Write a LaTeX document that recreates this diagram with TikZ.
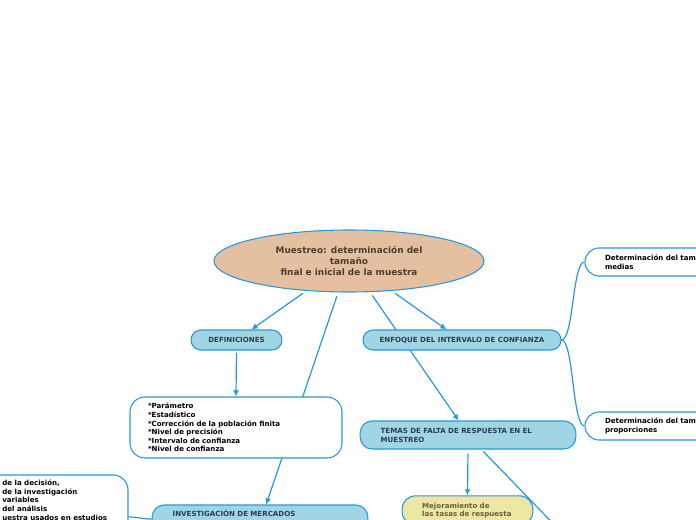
\documentclass[tikz,border=0pt]{standalone}
\usepackage{fontspec}
\setmainfont{DejaVu Sans}
\usetikzlibrary{shapes.geometric,arrows.meta,backgrounds}

\definecolor{linkblue}{RGB}{38,152,224}
\definecolor{topicfill}{RGB}{160,214,228}
\definecolor{rootfill}{RGB}{228,191,160}
\definecolor{notefill}{RGB}{237,231,164}
\definecolor{topictext}{RGB}{45,62,80}
\definecolor{roottext}{RGB}{75,62,45}
\definecolor{notetext}{RGB}{105,95,60}

\tikzset{
  root/.style={ellipse, draw=linkblue, line width=0.8pt, fill=rootfill, text=roottext,
    minimum width=202.5pt, minimum height=46.5pt, inner sep=0pt, align=center,
    font=\fontsize{6.7}{8.25}\selectfont\bfseries},
  topic/.style={rectangle, rounded corners=7.5pt, draw=linkblue, line width=0.8pt,
    fill=topicfill, text=topictext, minimum height=15pt, inner sep=0pt,
    font=\fontsize{5.3}{6.75}\selectfont\bfseries},
  leaf/.style={rectangle, rounded corners=11pt, draw=linkblue, line width=0.8pt,
    fill=white, text=black, align=left, inner ysep=0pt,
    font=\fontsize{5.3}{6.4}\selectfont\bfseries},
  conn/.style={draw=linkblue, line width=0.9pt, -{Latex[length=4.5pt,width=4.5pt]}},
  branch/.style={draw=linkblue, line width=0.9pt}
}

\begin{document}
\begin{tikzpicture}[x=0.75pt,y=0.75pt,yscale=-1,xscale=1]
\useasboundingbox (0,0) rectangle (696,520);

%Ellipse [root]
\node [root] (main) at (349,261) {Muestreo: determinación del\\tamaño\\final e inicial de la muestra};

%Rounded Rect [topics]
\node [topic, minimum width=68.25pt] (defs) at (236.5,340) {DEFINICIONES};
\node [topic, minimum width=148.5pt] (enf) at (462,340) {ENFOQUE DEL INTERVALO DE CONFIANZA};
\node [topic, rounded corners=9pt, minimum height=21pt, text width=131pt, inner xsep=15.4pt, align=left] (tem) at (468,435) {TEMAS DE FALTA DE RESPUESTA EN EL\\MUESTREO};
\node [topic, rounded corners=9pt, minimum height=21pt, text width=131pt, inner xsep=15.4pt, align=left, text depth=8.4pt] (inv) at (260,519) {INVESTIGACIÓN DE MERCADOS};

%Rounded Rect [leaves]
\node [leaf, rounded corners=11.25pt, minimum height=45.75pt, text width=132pt, inner xsep=13.5pt] (lst) at (236,427.5) {*Parámetro\\{}*Estadístico\\{}*Corrección de la población finita\\{}*Nivel de precisión\\{}*Intervalo de confianza\\{}*Nivel de confianza};
\node [leaf, rounded corners=10.5pt, minimum height=21pt, text width=90pt, inner xsep=15pt] (med) at (665,262) {Determinación del tama\\medias};
\node [leaf, rounded corners=10.5pt, minimum height=21pt, text width=90pt, inner xsep=15pt] (pro) at (665,426) {Determinación del tama\\proporciones};
\node [leaf, fill=notefill, text=notetext, rounded corners=10pt, minimum height=22pt, text width=68pt, inner xsep=15pt] (mej) at (467.5,510.5) {Mejoramiento de\\las tasas de respuesta};
\node [leaf, rounded corners=11.25pt, minimum width=193.5pt, minimum height=63pt] (lft) at (-1,517) {};
% Text Node
\node [anchor=north west, align=left, inner sep=0pt, font=\fontsize{5.3}{6.4}\selectfont\bfseries] (lfttxt) at (2,480) {de la decisión,\\de la investigación\\variables\\del análisis\\uestra usados en estudios};

\coordinate (offr) at (569,540);

%Connectors
\begin{scope}[on background layer]
\fill [white] (0,0) rectangle (696,520);
\draw [conn, shorten <=3pt] (main.215) -- (defs.35);
\draw [conn, shorten <=3pt] (main.251) -- (inv.67);
\draw [conn, shorten <=3pt] (main.304) -- (tem.123);
\draw [conn, shorten <=3pt] (main.325) -- (enf.146);
\draw [conn, shorten <=1.5pt] (defs.south) -- (lst.north);
\draw [conn, shorten <=3pt] (tem.south) -- (mej.north);
\draw [conn, shorten <=2pt] (tem.313) -- (offr);
\draw [branch] (enf.east) .. controls +(12,0) and +(-12,0) .. (med.west);
\draw [branch] (enf.east) .. controls +(12,0) and +(-12,0) .. (pro.west);
\draw [branch] (inv.west) .. controls +(-10,0) and +(10,0) .. (lft.east);
\end{scope}

\end{tikzpicture}
\end{document}
